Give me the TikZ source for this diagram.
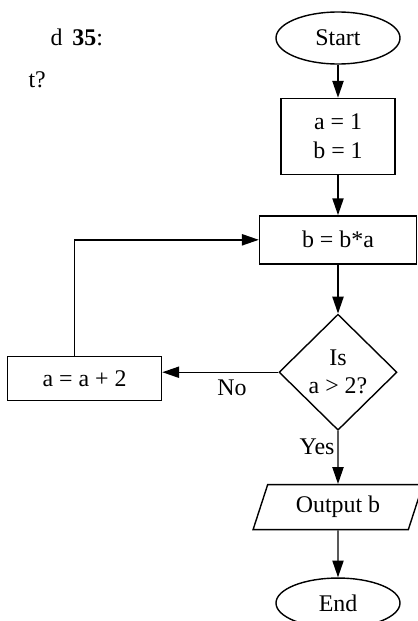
\documentclass[tikz,border=0pt]{standalone}
\usepackage{fontspec}
\setmainfont{Liberation Serif}
\usetikzlibrary{arrows.meta,positioning,shapes.geometric}

\begin{document}
\begin{tikzpicture}[
  node distance=1cm and 2.9cm,
  font=\fontsize{17}{20}\selectfont,
  terminal/.style={draw, ellipse, line width=1pt, inner sep=0pt, minimum width=3.1cm, minimum height=1.3cm},
  procbox/.style={draw, rectangle, line width=1pt, align=center, inner sep=0pt},
  decide/.style={draw, diamond, line width=1pt, align=center, inner sep=0pt, minimum width=2.95cm, minimum height=2.9cm},
  iobox/.style={draw, trapezium, trapezium left angle=68, trapezium right angle=112, trapezium stretches=true,
    line width=1pt, inner sep=0pt, minimum width=4.25cm, minimum height=1.125cm},
  arr/.style={-{Triangle[length=4.2mm, width=2.8mm]}, line width=1pt},
  lbl/.style={inner sep=2pt}
]
  \useasboundingbox (0,0) rectangle (10.45,-15.525);

  % question text cut off at the left
  \node[anchor=east] (qnum) at (2.7,-0.93) {d\, \textbf{35}:};
  \node[anchor=east] (qend) at (1.27,-2.0) {t?};

  \node[terminal] (start) at (8.45,-0.95) {Start};
  \node[procbox, below=0.825cm of start, minimum width=2.85cm, minimum height=1.9cm] (init)
    {a = 1\\[1pt] b = 1};
  \node[procbox, below=1cm of init, minimum width=3.925cm, minimum height=1.2cm] (upd) {b = b*a};
  \node[decide, below=1.225cm of upd] (test) {Is\\ a > 2?};
  \node[procbox, left=of test, minimum width=3.85cm, minimum height=1.1cm, yshift=-0.15cm] (inc) {a = a + 2};
  \node[iobox, below=1.325cm of test] (out) {Output b};
  \node[terminal, below=1.175cm of out, minimum height=1.25cm] (end) {End};

  \draw[arr] (start) -- (init);
  \draw[arr] (init) -- (upd);
  \draw[arr] (upd) -- (test);
  \draw[arr] (test.west) -- node[below, lbl, pos=0.4, yshift=-0.1cm] {No} (test.west -| inc.east);
  \draw[arr] ([xshift=-0.25cm]inc.north) |- (upd.west);
  \draw[arr] (test) -- node[left, lbl, pos=0.3] {Yes} (out);
  \draw[arr] (out) -- (end);
\end{tikzpicture}
\end{document}
